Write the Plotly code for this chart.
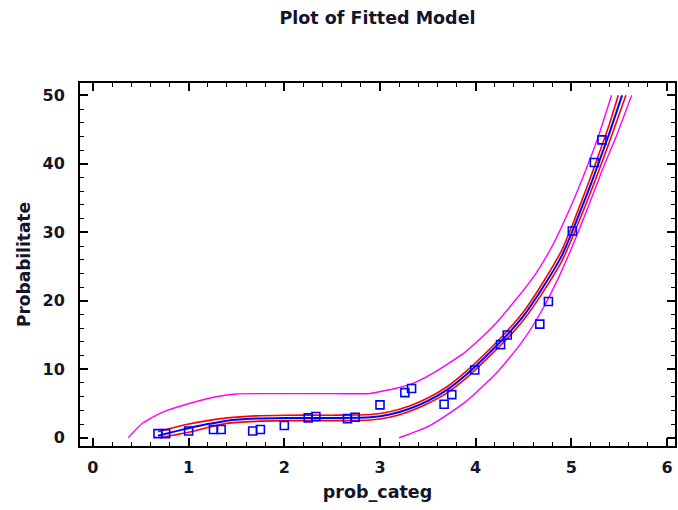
import plotly.graph_objects as go

# Observed data
prob_categ = [0.68, 0.76, 1.0, 1.26, 1.34, 1.67, 1.75, 2.0, 2.25, 2.33, 2.66, 2.74,
              3.0, 3.26, 3.33, 3.67, 3.75, 3.99, 4.26, 4.33, 4.67, 4.76, 5.01, 5.24, 5.32]
probabilitate = [0.6, 0.6, 1.0, 1.2, 1.2, 1.0, 1.2, 1.8, 2.9, 3.1, 2.8, 3.0,
                 4.8, 6.6, 7.2, 4.9, 6.3, 9.9, 13.6, 15.0, 16.6, 19.9, 30.2, 40.2, 43.5]

# Fitted model curve
fit_x = [0.68, 0.85, 1.0, 1.2, 1.4, 1.7, 2.0, 2.5, 2.9, 3.1, 3.3, 3.5, 3.7, 3.9,
         4.1, 4.3, 4.5, 4.7, 4.9, 5.0, 5.1, 5.2, 5.3, 5.4, 5.53]
fit_y = [0.3, 0.9, 1.4, 2.0, 2.5, 2.8, 2.9, 2.9, 3.0, 3.4, 4.2, 5.4, 7.0, 9.2,
         11.8, 14.6, 17.8, 21.9, 26.6, 29.8, 33.3, 36.9, 40.7, 44.6, 50.0]

# Confidence limits for the mean
conf_up_x = [0.68, 0.85, 1.0, 1.2, 1.4, 1.7, 2.0, 2.5, 2.9, 3.1, 3.3, 3.5, 3.7, 3.9,
             4.1, 4.3, 4.5, 4.7, 4.9, 5.0, 5.1, 5.2, 5.3, 5.4, 5.49]
conf_up_y = [0.9, 1.5, 2.0, 2.5, 2.9, 3.2, 3.3, 3.3, 3.4, 3.8, 4.6, 5.8, 7.45, 9.7,
             12.3, 15.15, 18.4, 22.6, 27.4, 30.7, 34.3, 38.0, 41.9, 45.9, 50.0]
conf_lo_x = [0.70, 0.85, 1.0, 1.2, 1.4, 1.7, 2.0, 2.5, 2.9, 3.1, 3.3, 3.5, 3.7, 3.9,
             4.1, 4.3, 4.5, 4.7, 4.9, 5.0, 5.1, 5.2, 5.3, 5.4, 5.57]
conf_lo_y = [0.0, 0.4, 0.8, 1.5, 2.1, 2.4, 2.5, 2.5, 2.6, 3.0, 3.8, 5.0, 6.55, 8.7,
             11.3, 14.05, 17.2, 21.2, 25.8, 28.9, 32.3, 35.8, 39.5, 43.3, 50.0]

# Prediction limits
pred_up_x = [0.37, 0.52, 0.73, 0.98, 1.29, 1.5, 2.0, 2.5, 2.89, 3.02, 3.16, 3.37,
             3.55, 3.89, 4.17, 4.41, 4.62, 4.80, 4.97, 5.12, 5.27, 5.42]
pred_up_y = [0.0, 2.15, 3.75, 4.9, 6.0, 6.4, 6.45, 6.45, 6.45, 6.8, 7.2, 8.1,
             9.4, 12.5, 16.1, 20.0, 23.8, 28.0, 33.0, 38.0, 43.5, 50.0]
pred_lo_x = [3.2, 3.51, 3.89, 4.24, 4.5, 4.7, 4.86, 5.02, 5.17, 5.32, 5.48, 5.63]
pred_lo_y = [0.0, 1.7, 5.2, 9.8, 14.3, 18.8, 23.2, 28.3, 33.5, 39.0, 44.4, 50.0]

FONT = "DejaVu Sans"
TXT = "#14142a"

fig = go.Figure()

for xs, ys in [(pred_up_x, pred_up_y), (pred_lo_x, pred_lo_y)]:
    fig.add_trace(go.Scatter(x=xs, y=ys, mode="lines",
                             line=dict(color="#ff00ff", width=1.4, shape="spline", smoothing=0.6)))
for xs, ys in [(conf_up_x, conf_up_y), (conf_lo_x, conf_lo_y)]:
    fig.add_trace(go.Scatter(x=xs, y=ys, mode="lines",
                             line=dict(color="#ff0000", width=1.6, shape="spline", smoothing=0.6)))
fig.add_trace(go.Scatter(x=fit_x, y=fit_y, mode="lines",
                         line=dict(color="#0000ff", width=2, shape="spline", smoothing=0.6)))
fig.add_trace(go.Scatter(x=prob_categ, y=probabilitate, mode="markers",
                         marker=dict(symbol="square-open", size=8, color="#0000ff",
                                     line=dict(width=1.6, color="#0000ff"))))

axis_common = dict(
    showgrid=False, zeroline=False, showline=True, linecolor="black", linewidth=2,
    mirror="ticks", ticks="inside", ticklen=8, tickwidth=1.5, tickcolor="black",
    tickfont=dict(family=FONT, size=16, color=TXT, weight="bold"),
)

fig.update_layout(
    width=678, height=510,
    margin=dict(l=80, r=1, t=83, b=64),
    paper_bgcolor="white", plot_bgcolor="white",
    showlegend=False,
    title=dict(text="Plot of Fitted Model", x=0.5, xref="paper", xanchor="center",
               y=1 - 18 / 510, yref="container", yanchor="middle",
               font=dict(family=FONT, size=17.5, color=TXT, weight="bold")),
    xaxis=dict(range=[-0.135, 6.083], tickmode="linear", tick0=0, dtick=1,
               minor=dict(dtick=0.2, ticks="inside", ticklen=4, tickwidth=1.3, tickcolor="black"),
               ticklabelstandoff=6,
               title=dict(text="prob_categ", standoff=10,
                          font=dict(family=FONT, size=17.5, color=TXT, weight="bold")),
               **axis_common),
    yaxis=dict(range=[-1.2, 51.8], tickmode="linear", tick0=0, dtick=10,
               minor=dict(dtick=2, ticks="inside", ticklen=4, tickwidth=1.3, tickcolor="black"),
               ticklabelstandoff=10,
               title=dict(text="Probabilitate", standoff=8,
                          font=dict(family=FONT, size=17, color=TXT, weight="bold")),
               **axis_common),
)

fig.write_html("out.html")
